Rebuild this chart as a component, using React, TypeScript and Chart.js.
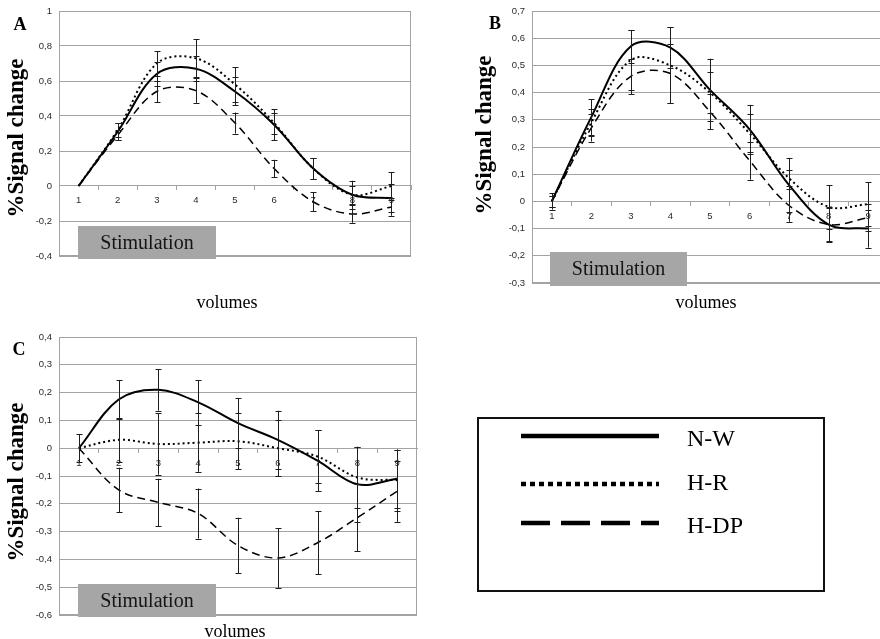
import React, { useEffect, useRef } from 'react';
import { Chart, registerables } from 'chart.js';

Chart.register(...registerables);

// ---------- data ----------
const CATEGORIES = ['1', '2', '3', '4', '5', '6', '7', '8', '9'];
const SERIES_LABELS = ['N-W', 'H-R', 'H-DP'];

// Panel A
const A_NW = [0, 0.31, 0.64, 0.67, 0.54, 0.35, 0.1, -0.05, -0.07];
const A_HR = [0, 0.32, 0.7, 0.73, 0.58, 0.36, 0.1, -0.05, 0.0];
const A_HDP = [0, 0.29, 0.54, 0.545, 0.36, 0.1, -0.09, -0.16, -0.12];
const A_NW_ERR = [0, 0.05, 0.07, 0.07, 0.08, 0.09, 0.06, 0.08, 0.08];
const A_HR_ERR = [0, 0.04, 0.07, 0.11, 0.1, 0.06, 0.06, 0.05, 0.08];
const A_HDP_ERR = [0, 0.03, 0.06, 0.07, 0.06, 0.05, 0.055, 0.05, 0.05];
const A_Y_TICKS = [-0.4, -0.2, 0, 0.2, 0.4, 0.6, 0.8, 1];

// Panel B
const B_NW = [0, 0.31, 0.57, 0.565, 0.41, 0.265, 0.06, -0.085, -0.1];
const B_HR = [0, 0.29, 0.52, 0.5, 0.4, 0.25, 0.085, -0.02, -0.01];
const B_HDP = [0, 0.27, 0.46, 0.47, 0.33, 0.15, -0.015, -0.085, -0.06];
const B_NW_ERR = [0.03, 0.065, 0.06, 0.075, 0.115, 0.09, 0.1, 0.06, 0.07];
const B_HR_ERR = [0.02, 0.05, 0.11, 0.14, 0.075, 0.07, 0.03, 0.08, 0.08];
const B_HDP_ERR = [0.02, 0.05, 0.065, 0.11, 0.065, 0.07, 0.06, 0.065, 0.05];
const B_Y_TICKS = [-0.3, -0.2, -0.1, 0, 0.1, 0.2, 0.3, 0.4, 0.5, 0.6, 0.7];

// Panel C
const C_NW = [0, 0.175, 0.21, 0.165, 0.09, 0.03, -0.045, -0.13, -0.11];
const C_HR = [0, 0.03, 0.015, 0.02, 0.025, 0.0, -0.03, -0.105, -0.115];
const C_HDP = [0, -0.15, -0.195, -0.235, -0.35, -0.395, -0.34, -0.25, -0.155];
const C_NW_ERR = [0.05, 0.07, 0.075, 0.08, 0.09, 0.105, 0.11, 0.135, 0.105];
const C_HR_ERR = [0, 0.08, 0.11, 0.105, 0.1, 0.1, 0.095, 0.11, 0.11];
const C_HDP_ERR = [0, 0.08, 0.085, 0.09, 0.1, 0.107, 0.113, 0.12, 0.11];
const C_Y_TICKS = [-0.6, -0.5, -0.4, -0.3, -0.2, -0.1, 0, 0.1, 0.2, 0.3, 0.4];

const Y_TITLE = '%Signal change';
const X_TITLE = 'volumes';
const STIM_LABEL = 'Stimulation';

// ---------- styles ----------
const SERIF = '"Liberation Serif", "Times New Roman", serif';
const SANS = '"Liberation Sans", Arial, sans-serif';
const GRID = '#a3a3a3';
const TICK_COLOR = '#2a2a2a';
const SERIES_STYLE = [
  { width: 2, dash: [] as number[] },
  { width: 2, dash: [2, 3] },
  { width: 1.5, dash: [8, 5] },
];
const LEGEND_STYLE = [
  { width: 4.5, dash: [] as number[] },
  { width: 4.5, dash: [5, 4] },
  { width: 4.5, dash: [29, 11] },
];

const fmt = (v: number) => {
  const r = Math.round(v * 10) / 10;
  if (Math.abs(r) < 1e-9) return '0';
  if (Number.isInteger(r)) return String(r);
  return r.toFixed(1).replace('.', ',');
};

const decorPlugin = {
  id: 'decor',
  beforeDatasetsDraw(chart: any) {
    const { ctx, chartArea } = chart;
    const l = Math.round(chartArea.left) + 0.5;
    const t = Math.round(chartArea.top) + 0.5;
    const r = Math.round(chartArea.right) - 0.5;
    const b = Math.round(chartArea.bottom) - 0.5;
    ctx.save();
    ctx.strokeStyle = GRID;
    ctx.lineWidth = 1;
    ctx.strokeRect(l, t, r - l, b - t);
    ctx.restore();
  },
  afterDatasetsDraw(chart: any) {
    const { ctx } = chart;
    const yScale = chart.scales.y;
    ctx.save();
    ctx.strokeStyle = '#1e1e1e';
    ctx.lineWidth = 1;
    ctx.setLineDash([]);
    chart.data.datasets.forEach((ds: any, i: number) => {
      const meta = chart.getDatasetMeta(i);
      (ds.errors || []).forEach((e: number, j: number) => {
        if (!e) return;
        const x = Math.round(meta.data[j].x) + 0.5;
        const v = ds.data[j];
        const yt = yScale.getPixelForValue(v + e);
        const yb = yScale.getPixelForValue(v - e);
        ctx.beginPath();
        ctx.moveTo(x, yt);
        ctx.lineTo(x, yb);
        ctx.moveTo(x - 3, Math.round(yt) + 0.5);
        ctx.lineTo(x + 3, Math.round(yt) + 0.5);
        ctx.moveTo(x - 3, Math.round(yb) + 0.5);
        ctx.lineTo(x + 3, Math.round(yb) + 0.5);
        ctx.stroke();
      });
    });
    ctx.restore();
  },
  afterDraw(chart: any, _args: any, opts: any) {
    const { ctx } = chart;
    ctx.save();
    ctx.setLineDash([]);
    if (opts.letter) {
      ctx.font = `bold 18px ${SERIF}`;
      ctx.fillStyle = '#000';
      ctx.textAlign = 'center';
      ctx.textBaseline = 'middle';
      ctx.fillText(opts.letter.text, opts.letter.x, opts.letter.y);
    }
    if (opts.yTitle) {
      ctx.save();
      ctx.translate(opts.yTitle.x, opts.yTitle.y);
      ctx.rotate(-Math.PI / 2);
      ctx.font = `bold 23px ${SERIF}`;
      ctx.fillStyle = '#000';
      ctx.textAlign = 'center';
      ctx.textBaseline = 'middle';
      ctx.fillText(Y_TITLE, 0, 0);
      ctx.restore();
    }
    if (opts.stim) {
      const s = opts.stim;
      ctx.fillStyle = '#a6a6a6';
      ctx.fillRect(s.x, s.y, s.w, s.h);
      ctx.font = `20px ${SERIF}`;
      ctx.fillStyle = '#141414';
      ctx.textAlign = 'center';
      ctx.textBaseline = 'middle';
      ctx.fillText(STIM_LABEL, s.x + s.w / 2, s.y + s.h / 2 + 1);
    }
    if (opts.xTitle) {
      ctx.font = `18px ${SERIF}`;
      ctx.fillStyle = '#000';
      ctx.textAlign = 'center';
      ctx.textBaseline = 'middle';
      ctx.fillText(X_TITLE, opts.xTitle.x, opts.xTitle.y);
    }
    if (opts.legend) {
      const L = opts.legend;
      ctx.strokeStyle = '#111';
      ctx.lineWidth = 2;
      ctx.strokeRect(L.x, L.y, L.w, L.h);
      chart.data.datasets.forEach((ds: any, i: number) => {
        const st = LEGEND_STYLE[i];
        ctx.beginPath();
        ctx.lineWidth = st.width;
        ctx.setLineDash(st.dash);
        ctx.strokeStyle = '#000';
        ctx.moveTo(L.x1, L.rows[i]);
        ctx.lineTo(L.x2, L.rows[i]);
        ctx.stroke();
        ctx.setLineDash([]);
        ctx.font = `24px ${SERIF}`;
        ctx.fillStyle = '#000';
        ctx.textAlign = 'left';
        ctx.textBaseline = 'middle';
        ctx.fillText(ds.label, L.textX, L.textRows[i]);
      });
    }
    ctx.restore();
  },
};

function makeConfig(p: any): any {
  const series = [p.nw, p.hr, p.hdp];
  const errors = [p.nwErr, p.hrErr, p.hdpErr];
  return {
    type: 'line',
    data: {
      labels: CATEGORIES,
      datasets: series.map((vals: number[], i: number) => ({
        label: SERIES_LABELS[i],
        data: vals,
        errors: errors[i],
        borderColor: '#000',
        backgroundColor: '#000',
        borderWidth: SERIES_STYLE[i].width,
        borderDash: SERIES_STYLE[i].dash,
        pointRadius: 0,
        tension: 0.35,
        fill: false,
      })),
    },
    options: {
      responsive: false,
      animation: false,
      events: [],
      layout: { padding: p.padding },
      plugins: {
        legend: { display: false },
        tooltip: { enabled: false },
        decor: p.decor,
      },
      scales: {
        x: {
          type: 'category',
          offset: true,
          position: { y: 0 },
          grid: {
            display: true,
            offset: true,
            drawOnChartArea: false,
            drawTicks: true,
            tickLength: 4,
            color: GRID,
            lineWidth: 1,
          },
          border: { display: true, color: GRID, width: 1 },
          ticks: {
            font: { family: SANS, size: 9.5 },
            color: TICK_COLOR,
            padding: 5,
            maxRotation: 0,
            autoSkip: false,
          },
          afterFit: (s: any) => {
            s.paddingLeft = 0;
            s.paddingRight = 0;
            s.paddingTop = 0;
            s.paddingBottom = 0;
          },
        },
        y: {
          type: 'linear',
          min: p.yTicks[0],
          max: p.yTicks[p.yTicks.length - 1],
          afterBuildTicks: (s: any) => {
            s.ticks = p.yTicks.map((v: number) => ({ value: v }));
          },
          afterFit: (s: any) => {
            s.width = p.yAxisWidth;
            s.paddingTop = 0;
            s.paddingBottom = 0;
          },
          grid: { color: GRID, lineWidth: 1, drawTicks: false },
          border: { display: true, color: GRID, width: 1 },
          ticks: {
            callback: (v: number) => fmt(v),
            font: { family: SANS, size: 9.5 },
            color: TICK_COLOR,
            padding: 7,
          },
        },
      },
    },
    plugins: [decorPlugin],
  };
}

const PANEL_A = {
  nw: A_NW, hr: A_HR, hdp: A_HDP,
  nwErr: A_NW_ERR, hrErr: A_HR_ERR, hdpErr: A_HDP_ERR,
  yTicks: A_Y_TICKS,
  yAxisWidth: 59,
  padding: { left: 0, top: 11, right: 29, bottom: 64 },
  decor: {
    letter: { text: 'A', x: 20, y: 25 },
    yTitle: { x: 17, y: 138 },
    stim: { x: 78, y: 226, w: 138, h: 33 },
    xTitle: { x: 227, y: 303 },
  },
};

const PANEL_B = {
  nw: B_NW, hr: B_HR, hdp: B_HDP,
  nwErr: B_NW_ERR, hrErr: B_HR_ERR, hdpErr: B_HDP_ERR,
  yTicks: B_Y_TICKS,
  yAxisWidth: 92,
  padding: { left: 0, top: 11, right: 4, bottom: 37 },
  decor: {
    letter: { text: 'B', x: 55, y: 24 },
    yTitle: { x: 45, y: 135 },
    stim: { x: 110, y: 252, w: 137, h: 34 },
    xTitle: { x: 266, y: 303 },
  },
};

const PANEL_C = {
  nw: C_NW, hr: C_HR, hdp: C_HDP,
  nwErr: C_NW_ERR, hrErr: C_HR_ERR, hdpErr: C_HDP_ERR,
  yTicks: C_Y_TICKS,
  yAxisWidth: 59,
  padding: { left: 0, top: 17, right: 463, bottom: 24 },
  decor: {
    letter: { text: 'C', x: 19, y: 30 },
    yTitle: { x: 17, y: 162 },
    stim: { x: 78, y: 264, w: 138, h: 33 },
    xTitle: { x: 235, y: 312 },
    legend: {
      x: 478, y: 98, w: 346, h: 173,
      x1: 521, x2: 659,
      rows: [116, 164, 203],
      textX: 687,
      textRows: [120, 164, 207],
    },
  },
};

function Panel({ cfg, left, top, width, height }: any) {
  const ref = useRef<HTMLCanvasElement | null>(null);
  useEffect(() => {
    if (!ref.current) return;
    const chart = new Chart(ref.current, makeConfig(cfg));
    return () => chart.destroy();
  }, [cfg]);
  return (
    <canvas
      ref={ref}
      width={width}
      height={height}
      style={{ position: 'absolute', left, top, width, height }}
    />
  );
}

export default function App() {
  return (
    <div
      style={{
        position: 'fixed',
        left: 0,
        top: 0,
        width: 880,
        height: 639,
        overflow: 'hidden',
        background: '#fff',
      }}
    >
      <Panel cfg={PANEL_A} left={0} top={0} width={440} height={320} />
      <Panel cfg={PANEL_B} left={440} top={0} width={452} height={320} />
      <Panel cfg={PANEL_C} left={0} top={320} width={880} height={319} />
    </div>
  );
}
